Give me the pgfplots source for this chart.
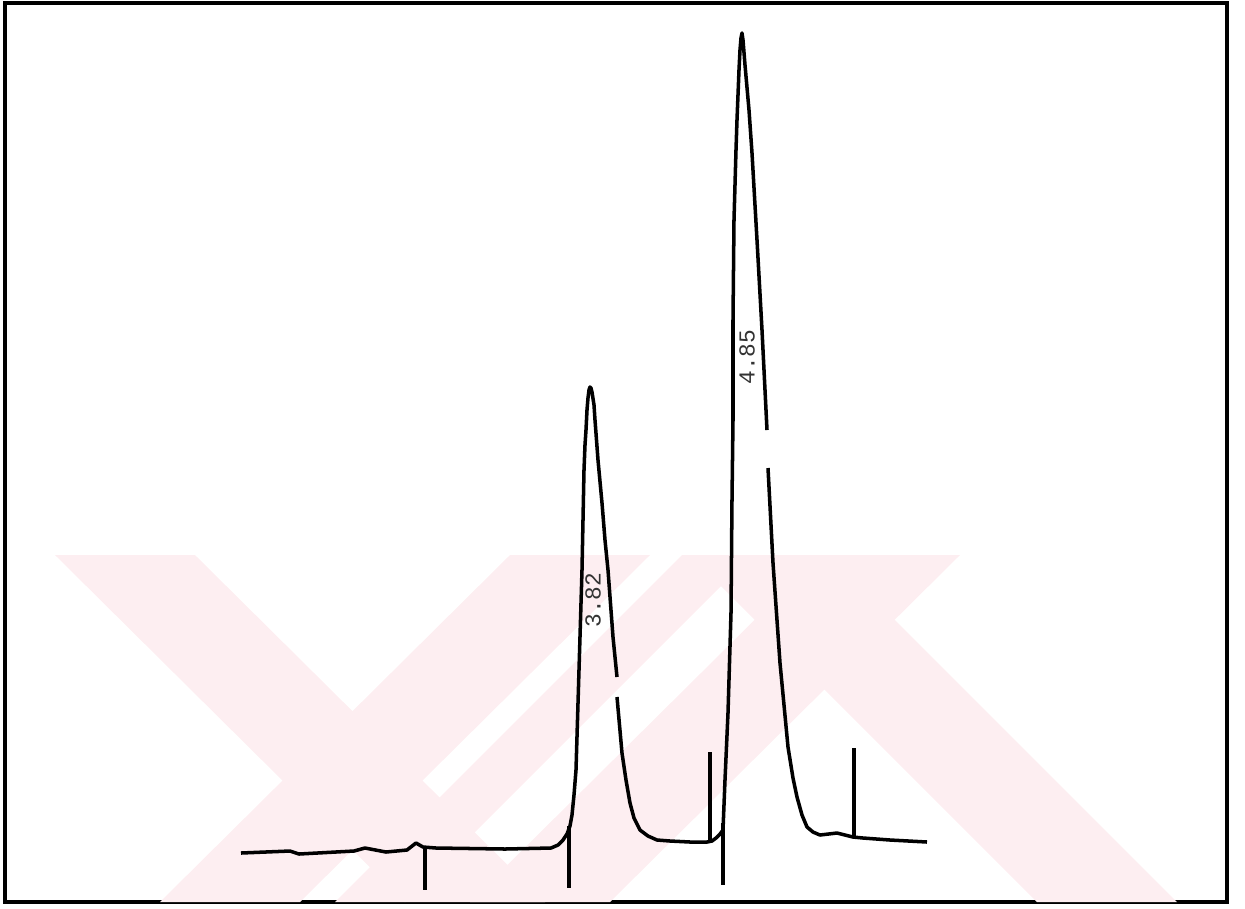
\documentclass[border=0pt]{standalone}
\usepackage{pgfplots}
\pgfplotsset{compat=1.18}
\usepackage{fontspec}
\setmonofont{Liberation Mono}
\definecolor{wm}{RGB}{253,238,241}
\begin{document}
\begin{tikzpicture}
\begin{axis}[
  scale only axis,
  width=24.44cm, height=17.98cm,
  xmin=5, xmax=1227, ymin=3, ymax=902,
  y dir=reverse,
  axis line style={line width=1.8pt},
  xtick=\empty, ytick=\empty,
  clip=false,
]
% page extent
\path (axis cs:0,0) rectangle (axis cs:1245,908);
% watermark (background)
\fill[wm] (axis cs:55,555) -- (axis cs:195,555) -- (axis cs:545,902) -- (axis cs:405,902) -- cycle;
\fill[wm] (axis cs:160,902) -- (axis cs:300,902) -- (axis cs:650,555) -- (axis cs:510,555) -- cycle;
\fill[wm] (axis cs:335,902) -- (axis cs:405,902) -- (axis cs:752,555) -- (axis cs:682,555) -- cycle;
\fill[wm] (axis cs:470,902) -- (axis cs:610,902) -- (axis cs:960,555) -- (axis cs:820,555) -- cycle;
\fill[wm] (axis cs:690,555) -- (axis cs:830,555) -- (axis cs:1177,902) -- (axis cs:1037,902) -- cycle;

\addplot[black, line width=2pt, line join=round] coordinates {
(241,853) (290,851) (299,854) (354,851) (365,848) (386,852) (407,850)
(416,843) (423,847) (436,848) (505,849) (551,848) (558,845) (563,840)
(567,834) (570,826) (572,815) (574,795) (576,770) (579,670) (582,570) (583,520) (584,470)
(585,445) (586,430) (587,410) (588,398) (589,390) (590,387) (591,388) (592,392) (594,405) (595,420) (598,460) (602,503)
(605,540) (608,570) (613,637) (617,677)
};
\addplot[black, line width=2pt, line join=round] coordinates {
(617,697) (622,753) (626,780) (630,803) (634,818) (640,830) (648,836)
(657,840) (670,841) (690,842) (707,842) (712,841) (716,838) (720,834)
(723,830) (725,780) (728,713) (731,613) (732,500) (733,420) (733,320)
(734,220) (736,150) (737,120) (739,70) (740,50) (741,38) (742,33) (743,40) (745,65) (749,110)
(752,153) (757,240) (762,330) (767,430)
};
\addplot[black, line width=2pt, line join=round] coordinates {
(768,468) (773,563) (780,663) (788,747) (793,778) (797,797) (802,815)
(807,827) (813,832) (820,835) (837,833) (853,837) (863,838) (890,840)
(927,842)
};
% event markers
\addplot[black, line width=1.8pt] coordinates {(425,848) (425,890)};
\addplot[black, line width=1.8pt] coordinates {(569,826) (569,888)};
\addplot[black, line width=1.8pt] coordinates {(710,752) (710,842)};
\addplot[black, line width=1.8pt] coordinates {(723,823) (723,885)};
\addplot[black, line width=1.8pt] coordinates {(854,748) (854,837)};
% retention time labels
\node[rotate=90, font=\ttfamily\fontsize{13}{13}\selectfont, text=black!80] at (axis cs:593,600) {3.82};
\node[rotate=90, font=\ttfamily\fontsize{13}{13}\selectfont, text=black!80] at (axis cs:747,357) {4.85};
\end{axis}
\end{tikzpicture}
\end{document}
